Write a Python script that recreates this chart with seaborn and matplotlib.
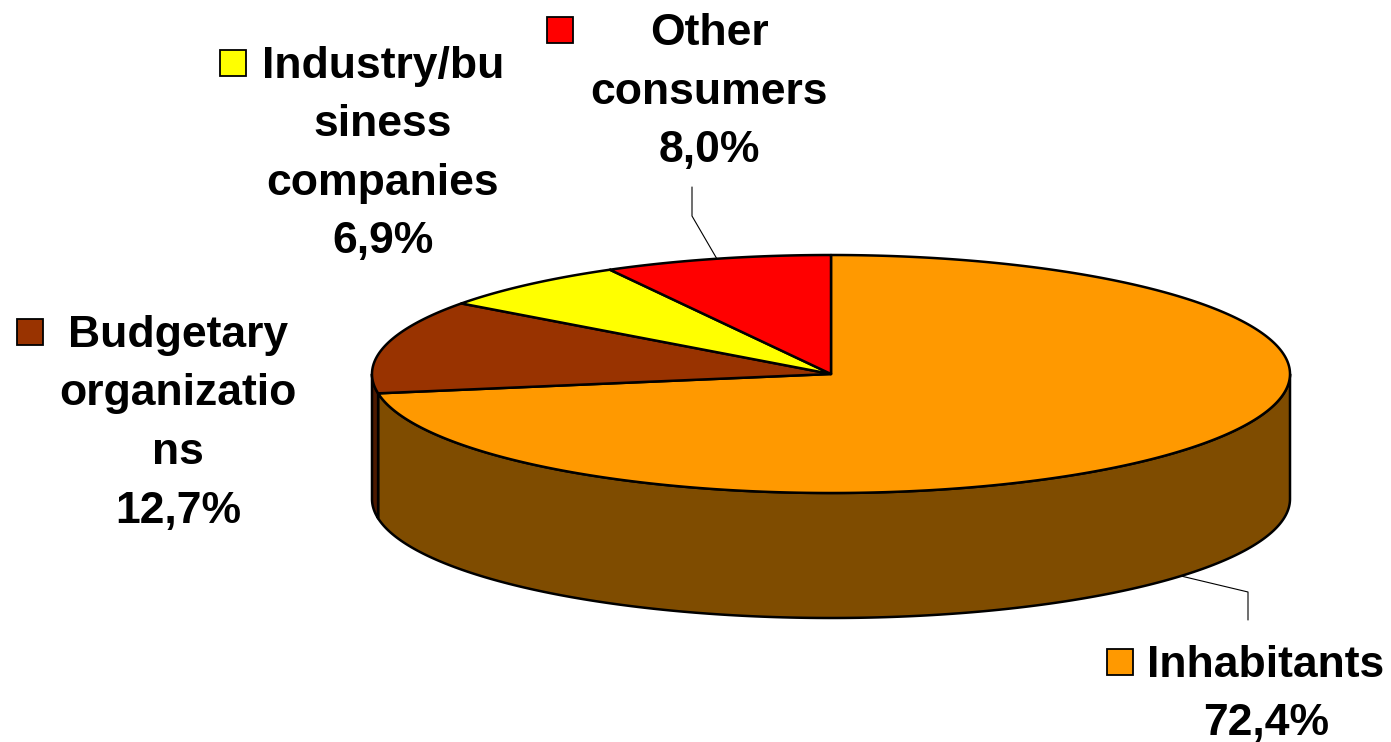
import numpy as np
import matplotlib
matplotlib.use("Agg")
import matplotlib.pyplot as plt
from matplotlib.patches import Polygon, Rectangle
import seaborn as sns

# Consumer groups and their shares (%), clockwise from 12 o'clock
categories = ["Inhabitants", "Budgetary organizations",
              "Industry/business companies", "Other consumers"]
shares = [72.4, 12.7, 6.9, 8.0]
# Label text as it wraps inside each label box
label_lines = [["Inhabitants"],
               ["Budgetary", "organizatio", "ns"],
               ["Industry/bu", "siness", "companies"],
               ["Other", "consumers"]]
top_colors = ["#FF9900", "#993300", "#FFFF00", "#FF0000"]
side_colors = ["#7F4C00", "#4C1900", "#7F7F00", "#7F0000"]

sns.set_theme(style="white")
plt.rcParams["font.family"] = ["Liberation Sans", "DejaVu Sans"]

W, H = 1391, 742
fig = plt.figure(figsize=(W / 100, H / 100), dpi=100)
ax = fig.add_axes([0, 0, 1, 1])
ax.set_xlim(0, W)
ax.set_ylim(H, 0)
ax.axis("off")

# Projected pie geometry (canvas pixels)
CX, CY, RX, RY, DEPTH = 831, 374, 459, 119, 125


def rim(a_deg, drop=0.0):
    a = np.radians(a_deg)
    return CX + RX * np.sin(a), CY - RY * np.cos(a) + drop


total = sum(shares)
bounds = np.concatenate([[0], np.cumsum(shares)]) / total * 360.0
starts, ends = bounds[:-1], bounds[1:]

# Visible side walls (front half: 90..270 degrees)
for i in range(len(shares)):
    lo, hi = max(starts[i], 90.0), min(ends[i], 270.0)
    if hi <= lo:
        continue
    a = np.linspace(lo, hi, 200)
    xs, ys = rim(a)
    xb, yb = rim(a[::-1], DEPTH)
    pts = np.column_stack([np.concatenate([xs, xb]), np.concatenate([ys, yb])])
    ax.add_patch(Polygon(pts, closed=True, facecolor=side_colors[i],
                         edgecolor="black", lw=1.8, joinstyle="round", zorder=2))

# Top faces
for i in range(len(shares)):
    a = np.linspace(starts[i], ends[i], 400)
    xs, ys = rim(a)
    pts = np.column_stack([np.concatenate([[CX], xs]), np.concatenate([[CY], ys])])
    ax.add_patch(Polygon(pts, closed=True, facecolor=top_colors[i],
                         edgecolor="black", lw=1.8, joinstyle="round", zorder=3))

# Label boxes: centre x, first baseline y, key-square left x
label_pos = {"Inhabitants": (1266, 677, 1107),
             "Budgetary organizations": (178, 347, 17),
             "Industry/business companies": (383, 78, 220),
             "Other consumers": (709, 45, 547)}
LINE_STEP = 58.5
KEY = 26

for i, cat in enumerate(categories):
    cx, by, kx = label_pos[cat]
    pct = f"{shares[i]:.1f}".replace(".", ",") + "%"
    lines = label_lines[i] + [pct]
    for j, t in enumerate(lines):
        ax.text(cx, by + j * LINE_STEP, t, ha="center", va="baseline",
                fontsize=32, fontweight="bold", color="black", zorder=5)
    ax.add_patch(Rectangle((kx, by - 28), KEY, KEY, facecolor=top_colors[i],
                           edgecolor="black", lw=1.3, zorder=5))

# Leader lines to slice mid-points
mid_other = (starts[3] + ends[3]) / 2
ox, oy = rim(mid_other)
ax.plot([692, 692, ox], [187, 216, oy], color="black", lw=0.8, zorder=4)

mid_inh = (starts[0] + ends[0]) / 2
ix, iy = rim(mid_inh, DEPTH)
ax.plot([ix, 1248, 1248], [iy, 592, 620], color="black", lw=0.8, zorder=4)

fig.savefig("out.png", dpi=100, facecolor="white")
